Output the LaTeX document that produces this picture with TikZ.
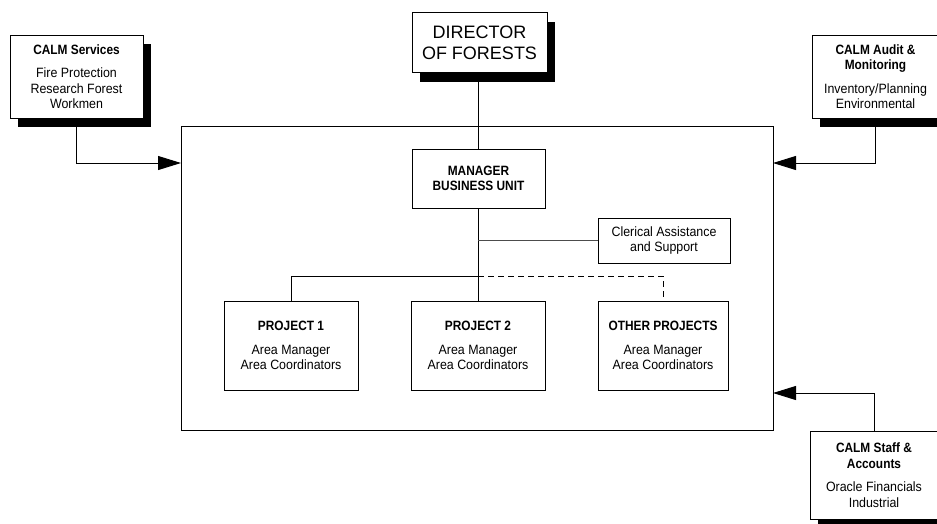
\documentclass[tikz,border=0pt]{standalone}
\usepackage{fontspec}
\setmainfont{Liberation Sans}[FakeStretch=0.92,BoldFeatures={FakeStretch=0.88}]
\newfontfamily\dirfont{Liberation Sans}
\usetikzlibrary{shadows,arrows.meta}
\tikzset{
  box/.style={draw=black, line width=1pt, fill=white, rectangle, align=center, inner sep=0pt,
    font=\fontsize{13.5}{15.5}\selectfont},
  shadowbox/.style={box, drop shadow={opacity=1, fill=black, shadow xshift=8pt, shadow yshift=-9pt}},
  conn/.style={line width=0.9pt, draw=black},
  feed/.style={conn, -{Triangle[length=23pt,width=14pt]}},
  dashconn/.style={conn, dash pattern=on 6pt off 4pt},
  thinconn/.style={line width=0.6pt, draw=black!70}
}
\begin{document}
\begin{tikzpicture}[x=1pt,y=-1pt]
\useasboundingbox (0,0) rectangle (937,523);
\clip (0,0) rectangle (937,523);

% main business unit frame
\node[draw=black, line width=1pt, rectangle, minimum width=592pt, minimum height=304pt, inner sep=0pt] (unit) at (477,278) {};

% outer boxes
\node[shadowbox, minimum width=133pt, minimum height=83pt] (services) at (76.5,76.5)
  {\textbf{CALM Services}\\[8pt]Fire Protection\\Research Forest\\Workmen};
\node[shadowbox, minimum width=135pt, minimum height=60pt, font=\dirfont\fontsize{18}{21}\selectfont] (director) at (479.5,42.5)
  {DIRECTOR\\OF FORESTS};
\node[shadowbox, minimum width=127pt, minimum height=83pt] (audit) at (875.5,76.5)
  {\textbf{CALM Audit \&}\\\textbf{Monitoring}\\[8pt]Inventory/Planning\\Environmental};
\node[shadowbox, minimum width=128pt, minimum height=88pt] (staff) at (874,475)
  {\textbf{CALM Staff \&}\\\textbf{Accounts}\\[8pt]Oracle Financials\\Industrial};

% inner boxes
\node[box, minimum width=133pt, minimum height=59pt] (manager) at (478.5,178.5)
  {\textbf{MANAGER}\\\textbf{BUSINESS UNIT}};
\node[box, minimum width=132pt, minimum height=45pt] (clerical) at (664,240.5)
  {Clerical Assistance\\and Support};
\node[box, minimum width=134pt, minimum height=89pt] (p1) at (291,345.5)
  {\textbf{PROJECT 1}\\[8pt]Area Manager\\Area Coordinators};
\node[box, minimum width=134pt, minimum height=89pt] (p2) at (478,345.5)
  {\textbf{PROJECT 2}\\[8pt]Area Manager\\Area Coordinators};
\node[box, minimum width=130pt, minimum height=89pt] (p3) at (663,345.5)
  {\textbf{OTHER PROJECTS}\\[8pt]Area Manager\\Area Coordinators};

% coordinates
\coordinate (inL) at (181,163);
\coordinate (inR) at (773,163);
\coordinate (inR2) at (773,393);
\coordinate (clJ) at (478,240);
\coordinate (prJ) at (478,276);

% connectors
\draw[conn] (director.south -| manager.north) -- (manager.north);
\draw[conn] (manager.south -| p2.north) -- (p2.north);
\draw[thinconn] (clJ) -- (clJ -| clerical.west);
\draw[conn] (p1.north) |- (prJ);
\draw[dashconn] (prJ) -| (p3.north);

\draw[feed] (services.south) |- (inL);
\draw[feed] (audit.south) |- (inR);
\draw[feed] (staff.north) |- (inR2);
\end{tikzpicture}
\end{document}
